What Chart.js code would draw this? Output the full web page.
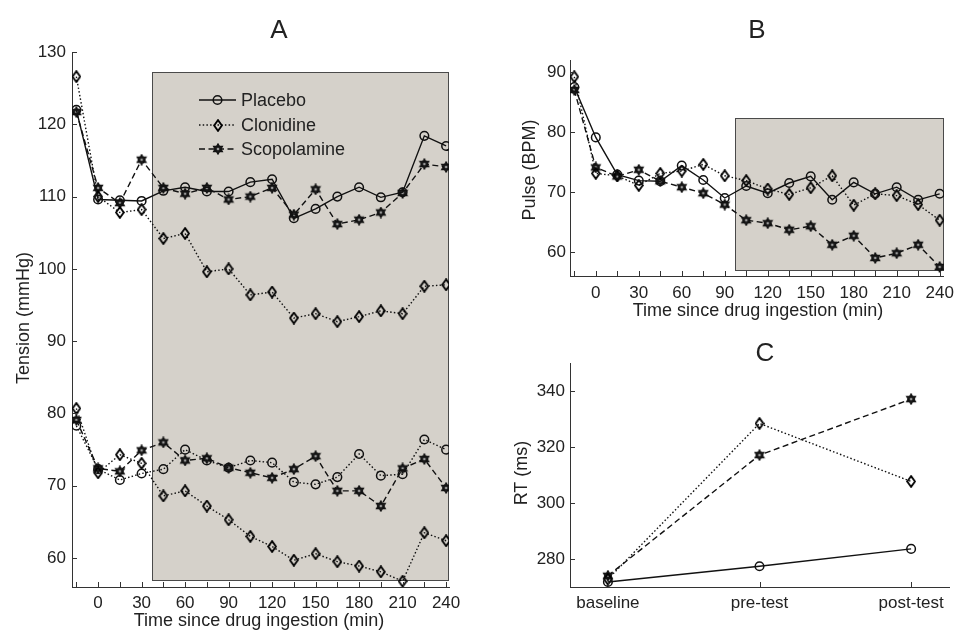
<!DOCTYPE html>
<html><head><meta charset="utf-8">
<script src="https://cdn.jsdelivr.net/npm/chart.js@4/dist/chart.umd.min.js"></script>
<style>
html,body{margin:0;padding:0;background:#fff;}
#wrap{position:relative;width:961px;height:634px;overflow:hidden;background:#fff;}
canvas{position:absolute;}
</style></head><body>
<div id="wrap">
<canvas id="cA" width="480" height="634" style="left:0;top:0;width:480px;height:634px"></canvas>
<canvas id="cB" width="471" height="330" style="left:490px;top:0;width:471px;height:330px"></canvas>
<canvas id="cC" width="471" height="304" style="left:490px;top:330px;width:471px;height:304px"></canvas>
</div>
<script>
// ---------- data ----------
const times = [-15, 0, 15, 30, 45, 60, 75, 90, 105, 120, 135, 150, 165, 180, 195, 210, 225, 240];
const timeTickLabels = [0, 30, 60, 90, 120, 150, 180, 210, 240];
const seriesNames = ['Placebo', 'Clonidine', 'Scopolamine'];

// Panel A: blood pressure (systolic upper group, diastolic lower group)
const placeboSysA     = [122.0, 109.6, 109.5, 109.4, 110.8, 111.3, 110.7, 110.7, 112.0, 112.4, 107.0, 108.3, 110.0, 111.3, 109.9, 110.6, 118.4, 117.0];
const clonidineSysA   = [126.6, 110.0, 107.8, 108.2, 104.2, 104.9, 99.6, 100.0, 96.4, 96.8, 93.2, 93.8, 92.7, 93.4, 94.2, 93.8, 97.6, 97.8];
const scopolamineSysA = [121.7, 111.2, 109.1, 115.1, 111.2, 110.4, 111.2, 109.6, 110.0, 111.2, 107.5, 111.0, 106.2, 106.8, 107.8, 110.5, 114.5, 114.1];
const placeboDiaA     = [78.3, 72.3, 70.8, 71.7, 72.3, 75.0, 73.5, 72.5, 73.5, 73.2, 70.5, 70.2, 71.2, 74.4, 71.4, 71.6, 76.4, 75.0];
const clonidineDiaA   = [80.7, 71.8, 74.3, 73.1, 68.6, 69.3, 67.2, 65.3, 63.0, 61.6, 59.7, 60.6, 59.5, 58.9, 58.1, 56.8, 63.5, 62.4];
const scopolamineDiaA = [79.1, 72.4, 72.0, 74.9, 76.0, 73.5, 73.8, 72.5, 71.8, 71.1, 72.3, 74.1, 69.3, 69.3, 67.2, 72.4, 73.7, 69.7];
const tensionTicks = [60, 70, 80, 90, 100, 110, 120, 130];

// Panel B: pulse
const placeboB     = [87.5, 79.1, 72.9, 71.9, 71.8, 74.4, 72.0, 69.0, 71.0, 69.8, 71.5, 72.6, 68.7, 71.6, 69.7, 70.8, 68.7, 69.7];
const clonidineB   = [89.2, 73.1, 72.7, 71.1, 73.1, 73.5, 74.6, 72.7, 71.9, 70.5, 69.6, 70.7, 72.7, 67.8, 69.7, 69.4, 67.9, 65.3];
const scopolamineB = [87.0, 74.1, 72.6, 73.7, 71.8, 70.8, 69.8, 67.9, 65.3, 64.8, 63.7, 64.3, 61.2, 62.7, 59.0, 59.8, 61.2, 57.5];
const pulseTicks = [60, 70, 80, 90];

// Panel C: reaction time
const rtCategories   = ['baseline', 'pre-test', 'post-test'];
const placeboRT      = [271.8, 277.4, 283.6];
const clonidineRT    = [272.8, 328.4, 307.7];
const scopolamineRT  = [274.0, 317.1, 337.1];
const rtTicks = [280, 300, 320, 340];

// shaded test periods (data units)
const shadeA = {x0: 37, x1: 242, y0: 57, y1: 127.2};
const shadeB = {x0: 97.5, x1: 243, y0: 57, y1: 82.4};

// ---------- style ----------
const INK = '#111';
const AXIS = '#333';
const TXT = '#222';
const FONT = '"Liberation Sans", Arial, Helvetica, sans-serif';
const DOT = [1.5, 2.2];
const DASH = [6, 3.5];

Chart.defaults.font.family = FONT;
Chart.defaults.font.size = 17;
Chart.defaults.color = TXT;

function makeDiamond(w, h, lw) {
  const c = document.createElement('canvas'); c.width = w; c.height = h;
  const g = c.getContext('2d'); g.strokeStyle = '#000'; g.lineWidth = lw;
  const m = lw / 2 + 0.2;
  g.beginPath(); g.moveTo(w / 2, m); g.lineTo(w - m, h / 2); g.lineTo(w / 2, h - m); g.lineTo(m, h / 2); g.closePath(); g.stroke();
  return c;
}
function makeStar(s) {
  const c = document.createElement('canvas'); c.width = s; c.height = s;
  const g = c.getContext('2d'); const cx = s / 2, cy = s / 2, r = s / 2 - 0.8;
  g.fillStyle = '#1a1a1a'; g.strokeStyle = INK; g.lineWidth = 1.1;
  for (let k = 0; k < 2; k++) {
    g.beginPath();
    for (let i = 0; i < 3; i++) {
      const a = -Math.PI / 2 + k * Math.PI + i * 2 * Math.PI / 3;
      const px = cx + r * Math.cos(a), py = cy + r * Math.sin(a);
      if (i === 0) g.moveTo(px, py); else g.lineTo(px, py);
    }
    g.closePath(); g.fill(); g.stroke();
  }
  g.fillStyle = '#9a9a9a'; g.beginPath(); g.arc(cx, cy, 1.3, 0, Math.PI * 2); g.fill();
  return c;
}
const diamondImg = makeDiamond(10, 13, 1.8);
const starImg = makeStar(12);

function series(label, xs, ys, dash, marker, r) {
  return {
    label, data: xs.map((x, i) => ({x, y: ys[i]})),
    borderColor: INK, borderWidth: 1.4, borderDash: dash, tension: 0, fill: false,
    pointStyle: marker, pointRadius: r || 4.3, pointBorderWidth: 1.5,
    pointBorderColor: INK, pointBackgroundColor: 'rgba(0,0,0,0)'
  };
}

const decor = {
  id: 'decor',
  beforeDatasetsDraw(chart, args, opts) {
    const s = opts.shade; if (!s) return;
    const {x, y} = chart.scales; const ctx = chart.ctx;
    const x0 = Math.round(x.getPixelForValue(s.x0)) + 0.5, x1 = Math.round(x.getPixelForValue(s.x1)) - 0.5;
    const y0 = Math.round(y.getPixelForValue(s.y1)) + 0.5, y1 = Math.round(y.getPixelForValue(s.y0)) + 0.5;
    ctx.save();
    ctx.fillStyle = '#d5d1ca'; ctx.fillRect(x0, y0, x1 - x0, y1 - y0);
    ctx.strokeStyle = '#4a4a4a'; ctx.lineWidth = 1; ctx.strokeRect(x0, y0, x1 - x0, y1 - y0);
    ctx.restore();
  },
  afterDraw(chart, args, opts) {
    const ctx = chart.ctx; const xs = chart.scales.x, ys = chart.scales.y; const L = 5;
    ctx.save();
    ctx.strokeStyle = AXIS; ctx.lineWidth = 1; ctx.beginPath();
    xs.ticks.forEach(t => { const px = Math.round(xs.getPixelForValue(t.value)) + 0.5; ctx.moveTo(px, xs.top); ctx.lineTo(px, xs.top - L); });
    ys.ticks.forEach(t => { const py = Math.round(ys.getPixelForValue(t.value)) + 0.5; ctx.moveTo(ys.right, py); ctx.lineTo(ys.right + L, py); });
    ctx.stroke();
    // texts
    (opts.texts || []).forEach(tx => {
      ctx.save(); ctx.fillStyle = TXT; ctx.font = tx.size + 'px ' + FONT;
      ctx.textAlign = 'center'; ctx.textBaseline = 'middle';
      ctx.translate(tx.x, tx.y); if (tx.rot) ctx.rotate(tx.rot);
      ctx.fillText(tx.t, 0, 0); ctx.restore();
    });
    // legend
    const lg = opts.legend;
    if (lg) {
      for (let i = 0; i < 3; i++) {
        const d = chart.data.datasets[i]; const y = lg.ys[i];
        ctx.save(); ctx.strokeStyle = INK; ctx.lineWidth = 1.4; ctx.setLineDash(d.borderDash || []);
        ctx.beginPath(); ctx.moveTo(lg.x0, y); ctx.lineTo(lg.x1, y); ctx.stroke(); ctx.setLineDash([]);
        const mx = (lg.x0 + lg.x1) / 2;
        if (d.pointStyle === 'circle') { ctx.lineWidth = 1.5; ctx.beginPath(); ctx.arc(mx, y, 4.3, 0, Math.PI * 2); ctx.stroke(); }
        else { const im = d.pointStyle; ctx.drawImage(im, Math.round(mx - im.width / 2), Math.round(y - im.height / 2)); }
        ctx.fillStyle = TXT; ctx.font = '18px ' + FONT; ctx.textAlign = 'left'; ctx.textBaseline = 'middle';
        ctx.fillText(d.label, lg.tx, y + 1);
        ctx.restore();
      }
    }
    ctx.restore();
  }
};

function timeAxis(min, max, pad, h) {
  return {
    type: 'linear', min, max,
    grid: {display: true, drawOnChartArea: false, drawTicks: false},
    border: {display: true, color: AXIS, width: 1},
    ticks: {stepSize: 15, includeBounds: false, autoSkip: false, maxRotation: 0, padding: pad, color: TXT,
      callback: v => timeTickLabels.includes(v) ? String(v) : ''},
    afterBuildTicks: s => { s.ticks = times.map(v => ({value: v})); },
    afterFit: s => { s.height = h; }
  };
}
function valueAxis(min, max, tickVals, pad, w) {
  return {
    type: 'linear', min, max,
    grid: {display: true, drawOnChartArea: false, drawTicks: false},
    border: {display: true, color: AXIS, width: 1},
    ticks: {padding: pad, color: TXT},
    afterBuildTicks: s => { s.ticks = tickVals.map(v => ({value: v})); },
    afterFit: s => { s.width = w; }
  };
}
const common = {responsive: false, animation: false, events: [],
  plugins: {legend: {display: false}, tooltip: {enabled: false}}};

// ---------- Panel A ----------
new Chart(document.getElementById('cA'), {
  type: 'line',
  data: {datasets: [
    series(seriesNames[0], times, placeboSysA, [], 'circle'),
    series(seriesNames[1], times, clonidineSysA, DOT, diamondImg),
    series(seriesNames[2], times, scopolamineSysA, DASH, starImg),
    series(seriesNames[0], times, placeboDiaA, DOT, 'circle'),
    series(seriesNames[1], times, clonidineDiaA, DOT, diamondImg),
    series(seriesNames[2], times, scopolamineDiaA, DASH, starImg)
  ]},
  options: Object.assign({}, common, {
    layout: {padding: {left: 0, top: 52, right: 31, bottom: 0}},
    scales: {x: timeAxis(-18, 242, 6, 47), y: valueAxis(56, 130, tensionTicks, 6, 72)},
    plugins: Object.assign({}, common.plugins, {decor: {
      shade: shadeA,
      legend: {x0: 199, x1: 236, tx: 241, ys: [100, 125, 149]},
      texts: [
        {t: 'A', x: 279, y: 31, size: 26},
        {t: 'Tension (mmHg)', x: 24, y: 318, size: 18, rot: -Math.PI / 2},
        {t: 'Time since drug ingestion (min)', x: 259, y: 621, size: 18}
      ]}})
  }),
  plugins: [decor]
});

// ---------- Panel B ----------
new Chart(document.getElementById('cB'), {
  type: 'line',
  data: {datasets: [
    series(seriesNames[0], times, placeboB, [], 'circle'),
    series(seriesNames[1], times, clonidineB, DOT, diamondImg),
    series(seriesNames[2], times, scopolamineB, DASH, starImg)
  ]},
  options: Object.assign({}, common, {
    layout: {padding: {left: 0, top: 60, right: 13, bottom: 0}},
    scales: {x: timeAxis(-18, 243, 7, 54), y: valueAxis(56, 92, pulseTicks, 4, 80)},
    plugins: Object.assign({}, common.plugins, {decor: {
      shade: shadeB,
      texts: [
        {t: 'B', x: 267, y: 31, size: 26},
        {t: 'Pulse (BPM)', x: 40, y: 170, size: 18, rot: -Math.PI / 2},
        {t: 'Time since drug ingestion (min)', x: 268, y: 311, size: 18}
      ]}})
  }),
  plugins: [decor]
});

// ---------- Panel C ----------
const rtX = [1, 2, 3];
new Chart(document.getElementById('cC'), {
  type: 'line',
  data: {datasets: [
    series(seriesNames[0], rtX, placeboRT, [], 'circle'),
    series(seriesNames[1], rtX, clonidineRT, DOT, diamondImg),
    series(seriesNames[2], rtX, scopolamineRT, DASH, starImg)
  ]},
  options: Object.assign({}, common, {
    layout: {padding: {left: 0, top: 33, right: 12, bottom: 0}},
    scales: {
      x: {type: 'linear', min: 0.75, max: 3.25,
        grid: {display: true, drawOnChartArea: false, drawTicks: false},
        border: {display: true, color: AXIS, width: 1},
        ticks: {autoSkip: false, maxRotation: 0, padding: 6, color: TXT,
          callback: v => rtCategories[v - 1] || ''},
        afterBuildTicks: s => { s.ticks = rtX.map(v => ({value: v})); },
        afterFit: s => { s.height = 47; }},
      y: valueAxis(270, 350, rtTicks, 5, 80)
    },
    plugins: Object.assign({}, common.plugins, {decor: {
      texts: [
        {t: 'C', x: 275, y: 24, size: 26},
        {t: 'RT (ms)', x: 32, y: 143, size: 18, rot: -Math.PI / 2}
      ]}})
  }),
  plugins: [decor]
});
</script>
</body></html>
